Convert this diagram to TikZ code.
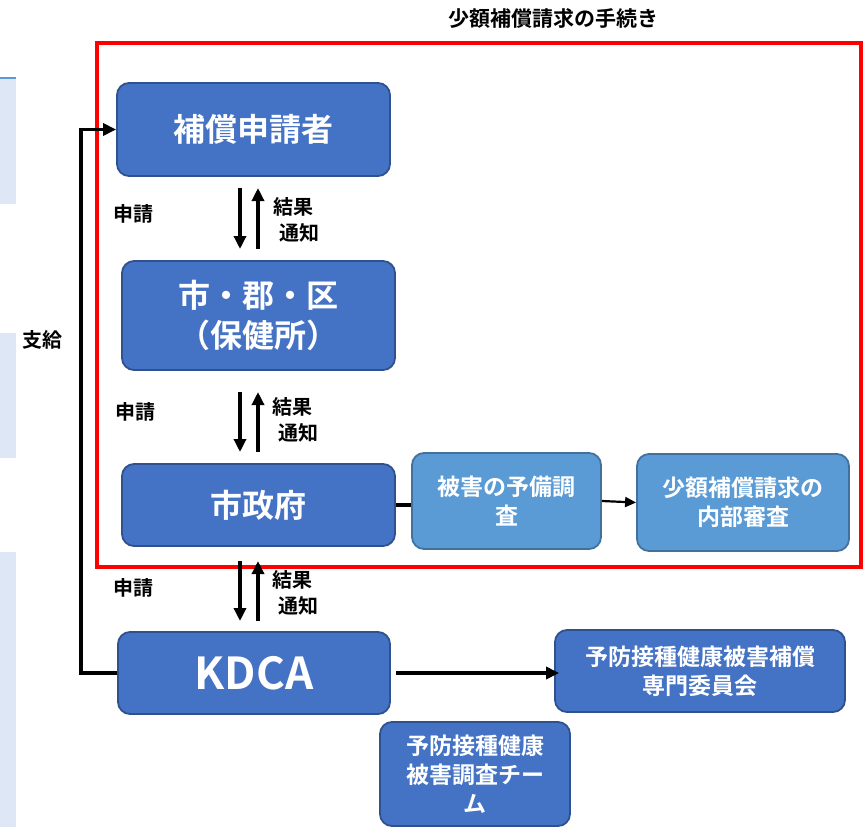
\documentclass[tikz,border=0pt]{standalone}
\usepackage{fontspec}
\setmainfont{Noto Sans CJK JP}[BoldFont={Noto Sans CJK JP Bold}]
\usetikzlibrary{arrows.meta}
\definecolor{dkfill}{HTML}{4472C4}
\definecolor{dkline}{HTML}{2F528F}
\definecolor{ltfill}{HTML}{5B9BD5}
\definecolor{ltline}{HTML}{41719C}
\definecolor{panel}{HTML}{DEE7F5}
\begin{document}
\begin{tikzpicture}[x=1pt,y=-1pt,
  darkbox/.style={draw=dkline,fill=dkfill,line width=1.8pt,rounded corners=12pt,text=white,font=\bfseries,align=center,inner sep=0pt},
  lightbox/.style={draw=ltline,fill=ltfill,line width=1.8pt,rounded corners=12pt,text=white,font=\bfseries,align=center,inner sep=0pt},
  lbl/.style={font=\bfseries\fontsize{20}{24}\selectfont,inner sep=0pt,align=center},
  conn/.style={line width=3.5pt},
  arr/.style={line width=3.5pt,-{Triangle[width=12pt,length=13pt]}}
]
\useasboundingbox (0,0) rectangle (863,827);
% left panels
\fill[panel] (0,78) rectangle (16,204);
\draw[ltfill,line width=1.5pt] (0,78) -- (16,78);
\fill[panel] (0,333) rectangle (16,458);
\fill[panel] (0,552) rectangle (16,827);
% title and red frame
\node[lbl,font=\bfseries\fontsize{21}{24}\selectfont] (title) at (553,19) {少額補償請求の手続き};
\draw[red,line width=4pt] (97,43) rectangle (861,567);
% boxes
\node[darkbox,minimum width=273pt,minimum height=93pt,font=\bfseries\fontsize{32}{36}\selectfont] (a) at (253.5,129.5) {補償申請者};
\node[darkbox,minimum width=273pt,minimum height=109pt,font=\bfseries\fontsize{32}{40}\selectfont] (b) at (258.5,315.5) {市・郡・区\\（保健所）};
\node[darkbox,minimum width=273pt,minimum height=82pt,font=\bfseries\fontsize{32}{36}\selectfont] (c) at (258.5,505) {市政府};
\node[lightbox,minimum width=189pt,minimum height=96pt,font=\bfseries\fontsize{23}{29}\selectfont] (d) at (506.5,501) {被害の予備調\\査};
\node[lightbox,minimum width=212pt,minimum height=97pt,font=\bfseries\fontsize{23}{29}\selectfont] (e) at (743,502.5) {少額補償請求の\\内部審査};
\node[darkbox,minimum width=272pt,minimum height=82pt,font=\bfseries\fontsize{44}{48}\selectfont] (f) at (254,673) {KDCA};
\node[darkbox,minimum width=290pt,minimum height=82pt,font=\bfseries\fontsize{23}{29}\selectfont] (g) at (700,671) {予防接種健康被害補償\\専門委員会};
\node[darkbox,minimum width=190pt,minimum height=104pt,font=\bfseries\fontsize{23}{29}\selectfont] (h) at (475,774) {予防接種健康\\被害調査チー\\ム};
% labels
\node[lbl] (s1) at (133,214) {申請};
\node[lbl] (r1a) at (293,207) {結果};
\node[lbl] (r1b) at (299,233) {通知};
\node[lbl] (s2) at (135,412) {申請};
\node[lbl] (r2a) at (292,407) {結果};
\node[lbl] (r2b) at (298,433) {通知};
\node[lbl] (s3) at (133,588) {申請};
\node[lbl] (r3a) at (292,580) {結果};
\node[lbl] (r3b) at (298,606) {通知};
\node[lbl] (pay) at (42,340) {支給};
% vertical arrow pairs
\coordinate (a1) at (240,188); \coordinate (a2) at (240,249);
\coordinate (b1) at (240,392); \coordinate (b2) at (240,452);
\coordinate (c1) at (240,561); \coordinate (c2) at (240,621);
\draw[arr] (a1) -- (a2);
\draw[arr] ([xshift=18pt]a2) -- ([xshift=18pt]a1);
\draw[arr] (b1) -- (b2);
\draw[arr] ([xshift=18pt]b2) -- ([xshift=18pt]b1);
\draw[arr] (c1) -- (c2);
\draw[arr] ([xshift=18pt]c2) -- ([xshift=18pt]c1);
% horizontal connectors
\draw[conn] (c.east) -- (c.east -| d.west);
\draw[line width=2.2pt,-{Triangle[width=10pt,length=11pt]}] (d.east) -- (e.west);
\draw[arr] ([xshift=5pt]f.east) -- ([xshift=5pt]f.east -| g.west);
% payment loop
\coordinate (lp) at (81,0);
\draw[arr] (f.west) -| (lp |- a.west) -- (a.west);
\end{tikzpicture}
\end{document}
